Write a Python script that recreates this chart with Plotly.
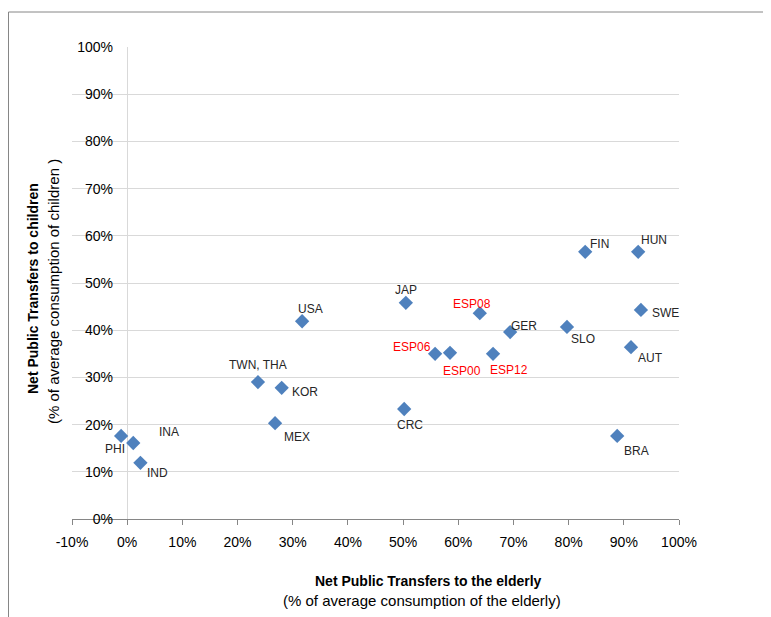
import plotly.graph_objects as go

# Data (percent)
countries = ["PHI", "INA", "IND", "TWN, THA", "KOR", "MEX", "USA", "JAP", "CRC",
             "ESP06", "ESP00", "ESP08", "ESP12", "GER", "SLO", "FIN", "HUN", "SWE", "AUT", "BRA"]
elderly = [-1.1, 1.1, 2.4, 23.7, 28.0, 26.8, 31.7, 50.5, 50.2,
           55.8, 58.5, 63.9, 66.3, 69.4, 79.7, 83.0, 92.6, 93.1, 91.3, 88.8]
children = [17.6, 16.1, 11.9, 29.0, 27.8, 20.3, 41.9, 45.8, 23.3,
            35.0, 35.2, 43.6, 35.0, 39.6, 40.7, 56.6, 56.6, 44.3, 36.4, 17.6]
x_ticks = list(range(-10, 101, 10))
y_ticks = list(range(0, 101, 10))

# label offsets in pixels (dx, dy down positive)
label_offsets = {
    "PHI": (-6, 13), "INA": (36, -11), "IND": (17, 10), "TWN, THA": (0, -17),
    "KOR": (23, 4), "MEX": (22, 14), "USA": (8, -12), "JAP": (0, -13),
    "CRC": (6, 16), "ESP06": (-23, -7), "ESP00": (12, 18), "ESP08": (-8, -9),
    "ESP12": (16, 16), "GER": (14, -6), "SLO": (16, 12), "FIN": (14, -8),
    "HUN": (16, -12), "SWE": (25, 3), "AUT": (20, 11), "BRA": (19, 15),
}

FONT = "Liberation Sans"
fig = go.Figure()
fig.add_trace(go.Scatter(
    x=elderly, y=children, mode="markers",
    marker=dict(symbol="diamond", size=11, color="#4F81BD",
                line=dict(width=0)),
    hoverinfo="text", text=countries, showlegend=False,
))

annotations = []
for c, xv, yv in zip(countries, elderly, children):
    dx, dy = label_offsets[c]
    annotations.append(dict(
        x=xv, y=yv, xref="x", yref="y", text=c, showarrow=False,
        xshift=dx, yshift=-dy,
        font=dict(family=FONT, size=12,
                  color="#FF0000" if c.startswith("ESP") else "#262626"),
    ))

# axis titles (page pixel positions, converted below)
titles = [
    dict(x=428, y=581, text="<b>Net Public Transfers to the elderly</b>", textangle=0, size=14),
    dict(x=422, y=600, text="(% of average consumption of the elderly)", textangle=0, size=15),
    dict(x=33, y=289, text="<b>Net Public Transfers to children</b>", textangle=-90, size=14),
    dict(x=53, y=292, text="(% of average consumption of children )", textangle=-90, size=15),
]

# plot area in page pixels; page body has 8px offset
OFF = 8
L, R, T, B = 72, 679, 47, 519
W, H = R - L, B - T
for t in titles:
    annotations.append(dict(
        x=(t["x"] - L) / W, y=(B - t["y"]) / H, xref="paper", yref="paper",
        text=t["text"], showarrow=False, textangle=t["textangle"],
        xanchor="center", yanchor="middle",
        font=dict(family=FONT, size=t["size"], color="#000000"),
    ))

BX = OFF + 0.5  # left border x (page px), as close to reference as reachable
fig.update_layout(
    width=771, height=617,
    margin=dict(l=L - OFF, r=771 - (R - OFF), t=T - OFF, b=617 - (B - OFF), pad=0),
    paper_bgcolor="white", plot_bgcolor="white",
    font=dict(family=FONT, size=13, color="#000000"),
    annotations=annotations,
    xaxis=dict(
        range=[-10, 100], tickvals=x_ticks, ticktext=[f"{v}%" for v in x_ticks],
        showgrid=False, zeroline=True, zerolinecolor="#D9D9D9", zerolinewidth=1,
        showline=True, linecolor="#868686", linewidth=1,
        ticks="outside", ticklen=5, tickcolor="#868686",
        ticklabelstandoff=5, tickfont=dict(family=FONT, size=14, color="#000000"),
    ),
    yaxis=dict(
        range=[0, 100], tickvals=y_ticks, ticktext=[f"{v}%" for v in y_ticks],
        showgrid=True, gridcolor="#D9D9D9", gridwidth=1, zeroline=False,
        showline=False, ticks="", ticklabelstandoff=-42,
        tickfont=dict(family=FONT, size=14, color="#000000"),
    ),
    shapes=[
        dict(type="line", xref="paper", yref="paper",
             x0=(BX - L) / W, x1=(800 - L) / W, y0=(B - 12) / H, y1=(B - 12) / H,
             line=dict(color="#868686", width=1)),
        dict(type="line", xref="paper", yref="paper",
             x0=(BX - L) / W, x1=(BX - L) / W, y0=(B - 12) / H, y1=(B - 650) / H,
             line=dict(color="#868686", width=1)),
    ],
)

fig.write_html("out.html")
